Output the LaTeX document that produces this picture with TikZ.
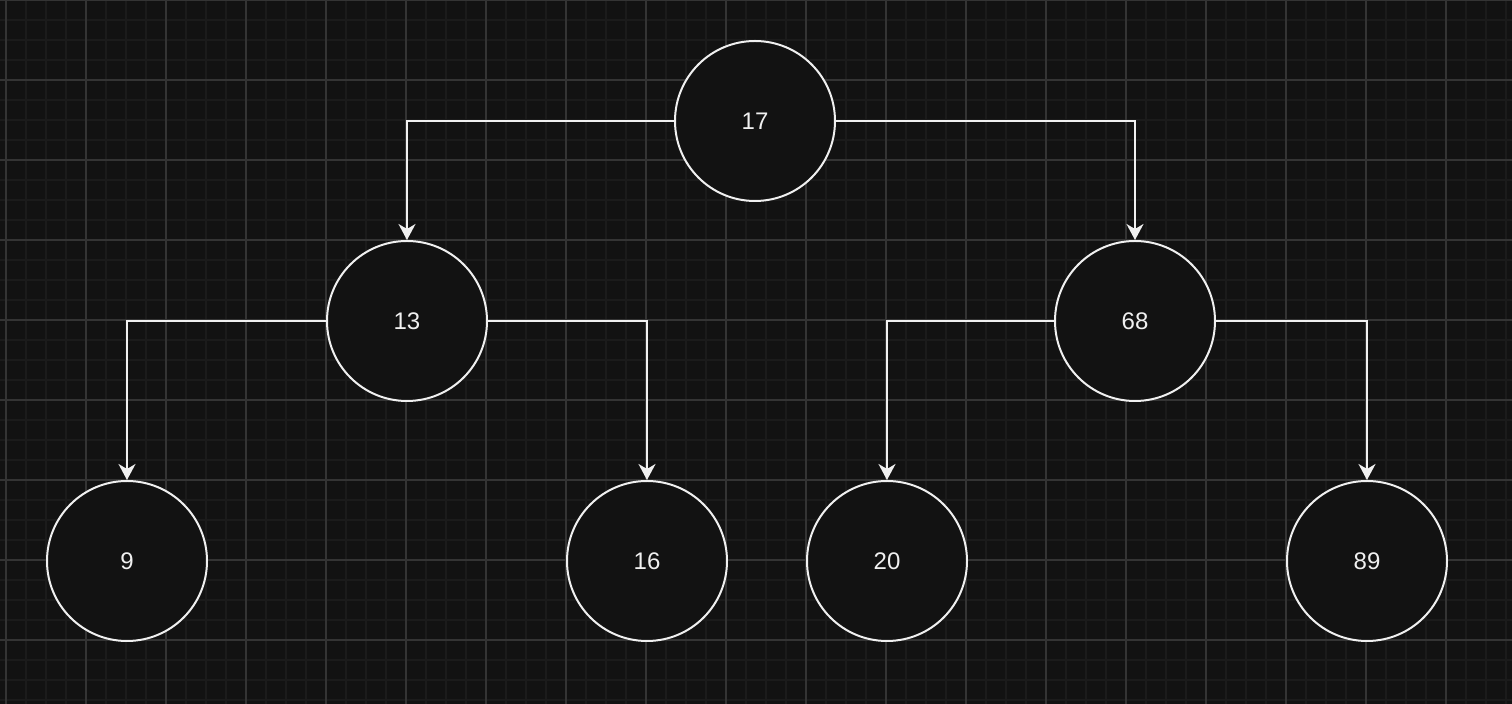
\documentclass[tikz,border=0pt]{standalone}
\usepackage{fontspec}
\setmainfont{Liberation Sans}
\usetikzlibrary{arrows.meta}
\definecolor{bgc}{RGB}{18,18,18}
\definecolor{minorc}{RGB}{27,27,27}
\definecolor{majorc}{RGB}{52,52,52}
\definecolor{linec}{RGB}{240,240,240}
\tikzset{
  treenode/.style={circle, draw=linec, fill=bgc, line width=1pt, minimum size=80pt, inner sep=0pt, text=linec, font=\fontsize{12}{14}\selectfont},
  arr/.style={draw=linec, line width=1pt, -{Stealth[length=8pt,width=8.5pt,inset=2.5pt]}}
}
\begin{document}
\begin{tikzpicture}[x=0.5pt,y=-0.5pt]
\fill[bgc] (0,0) rectangle (1512,704);
\useasboundingbox (0,0) rectangle (1512,704);
% minor grid
\foreach \x in {6,26,...,1512} \draw[minorc, line width=0.9pt] (\x,0) -- (\x,704);
\foreach \y in {0,20,...,704} \draw[minorc, line width=0.9pt] (0,\y) -- (1512,\y);
% major grid
\foreach \x in {6,86,...,1512} \draw[majorc, line width=0.6pt] (\x,0) -- (\x,704);
\foreach \y in {0,80,...,704} \draw[majorc, line width=0.6pt] (0,\y) -- (1512,\y);
% nodes
\node[treenode] (n17) at (755,121) {17};
\node[treenode] (n13) at (407,321) {13};
\node[treenode] (n68) at (1135,321) {68};
\node[treenode] (n9) at (127,561) {9};
\node[treenode] (n16) at (647,561) {16};
\node[treenode] (n20) at (887,561) {20};
\node[treenode] (n89) at (1367,561) {89};
% edges
\draw[arr] (n17.west) -| (n13.north);
\draw[arr] (n17.east) -| (n68.north);
\draw[arr] (n13.west) -| (n9.north);
\draw[arr] (n13.east) -| (n16.north);
\draw[arr] (n68.west) -| (n20.north);
\draw[arr] (n68.east) -| (n89.north);
\end{tikzpicture}
\end{document}
